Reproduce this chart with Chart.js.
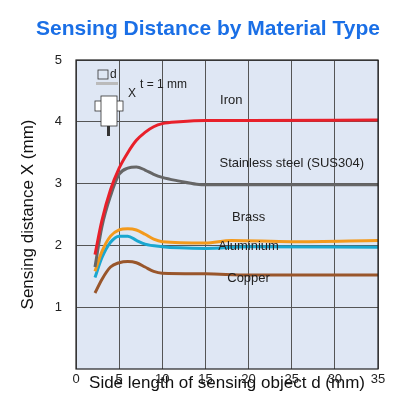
<!DOCTYPE html>
<html>
<head>
<meta charset="utf-8">
<script src="https://cdn.jsdelivr.net/npm/chart.js@4/dist/chart.umd.min.js"></script>
<style>
  html, body { margin: 0; padding: 0; background: #fff; }
  #wrap { width: 416px; height: 416px; }
</style>
</head>
<body>
<div id="wrap"><canvas id="myChart" width="416" height="416"></canvas></div>
<script>
// Valores
const seriesNames = ['Iron', 'Stainless steel (SUS304)', 'Brass', 'Aluminium', 'Copper'];
const ironPts = [[2.2,1.85],[3,2.4],[4,2.9],[5,3.25],[6,3.5],[7,3.7],[8,3.83],[9,3.92],[10,3.97],[12,4.0],[15,4.02],[20,4.02],[35,4.03]];
const stainlessPts = [[2.2,1.65],[3,2.3],[4,2.8],[5,3.15],[6,3.25],[7,3.27],[8,3.22],[9,3.15],[10,3.1],[12,3.04],[14,2.99],[15,2.98],[35,2.98]];
const brassPts = [[2.2,1.58],[3,1.9],[4,2.15],[5,2.25],[6,2.27],[7,2.25],[8,2.18],[9,2.1],[10,2.06],[15,2.04],[18,2.08],[25,2.06],[35,2.08]];
const aluminiumPts = [[2.2,1.48],[3,1.8],[4,2.05],[5,2.15],[6,2.15],[7,2.08],[8,2.02],[10,1.98],[12,1.96],[15,1.95],[20,1.98],[35,1.97]];
const copperPts = [[2.2,1.23],[3,1.45],[4,1.65],[5,1.72],[6,1.74],[7,1.72],[8,1.65],[9,1.58],[10,1.55],[15,1.54],[20,1.52],[35,1.52]];
const xTicks = [0, 5, 10, 15, 20, 25, 30, 35];
const yTicks = [1, 2, 3, 4, 5];

const colores = ['#e8202a', '#666666', '#f39a1c', '#1aa7d0', '#99562b'];
// etiquetas: [x, y] en unidades de datos
const etiquetaPos = [[18, 4.35], [25, 3.32], [20, 2.46], [20, 1.98], [20, 1.47]];
const etiquetaTxt = ['Iron', 'Stainless steel (SUS304)', 'Brass', 'Aluminium', 'Copper'];

const todos = [ironPts, stainlessPts, brassPts, aluminiumPts, copperPts];

// Plugin para fondo, titulo, etiquetas y el dibujito del sensor
const decoracion = {
    id: 'decoracion',
    beforeDraw(chart) {
        const { ctx, chartArea: a } = chart;
        ctx.save();
        ctx.fillStyle = '#dfe7f4';
        ctx.fillRect(a.left, a.top, a.right - a.left, a.bottom - a.top);
        ctx.restore();
    },
    afterDraw(chart) {
        const { ctx, chartArea: a, scales } = chart;
        ctx.save();
        ctx.strokeStyle = '#222';
        ctx.lineWidth = 1.2;
        ctx.strokeRect(a.left, a.top, a.right - a.left, a.bottom - a.top);

        ctx.fillStyle = '#1a6fe6';
        ctx.font = 'bold 21px Liberation Sans, Arial, sans-serif';
        ctx.textAlign = 'center';
        ctx.textBaseline = 'middle';
        ctx.fillText('Sensing Distance by Material Type', 208, 29);

        ctx.fillStyle = '#222';
        ctx.font = '13px Liberation Sans, Arial, sans-serif';
        etiquetaPos.forEach(([x, y], i) => {
            ctx.fillText(etiquetaTxt[i], scales.x.getPixelForValue(x), scales.y.getPixelForValue(y));
        });

        // dibujito del sensor (decorativo)
        ctx.strokeStyle = '#333';
        ctx.lineWidth = 0.8;
        ctx.fillStyle = '#fff';
        ctx.strokeRect(98, 70, 10, 9);
        ctx.fillStyle = '#bbb';
        ctx.fillRect(96, 82, 22, 3);
        ctx.fillStyle = '#222';
        ctx.font = '12px Liberation Sans, Arial, sans-serif';
        ctx.textAlign = 'left';
        ctx.fillText('d', 110, 75);
        ctx.fillText('t = 1 mm', 140, 85);
        ctx.fillText('X', 128, 94);
        ctx.fillStyle = '#fff';
        ctx.fillRect(95, 101, 28, 10);
        ctx.strokeRect(95, 101, 28, 10);
        ctx.fillRect(101, 96, 16, 30);
        ctx.strokeRect(101, 96, 16, 30);
        ctx.fillStyle = '#333';
        ctx.fillRect(107, 126, 3, 10);
        ctx.restore();
    }
};

new Chart(document.getElementById('myChart').getContext('2d'), {
    type: 'scatter',
    data: {
        datasets: todos.map((pts, i) => ({
            label: seriesNames[i],
            data: pts.map(([x, y]) => ({ x, y })),
            showLine: true,
            borderColor: colores[i],
            borderWidth: 3,
            pointRadius: 0,
            tension: 0.4,
            cubicInterpolationMode: 'monotone'
        }))
    },
    options: {
        responsive: false,
        animation: false,
        layout: { padding: { top: 60, right: 38, left: 18, bottom: 22 } },
        plugins: { legend: { display: false }, tooltip: { enabled: false } },
        scales: {
            x: {
                type: 'linear', min: 0, max: 35,
                afterBuildTicks: s => { s.ticks = xTicks.map(v => ({ value: v })); },
                afterFit: s => { s.height = 25; },
                grid: { color: '#555', lineWidth: 1, drawTicks: false },
                border: { display: false },
                ticks: { color: '#222', padding: 3, font: { size: 13, family: 'Liberation Sans' } },
                title: { display: true, text: 'Side length of sensing object d (mm)', color: '#111',
                         font: { size: 17, family: 'Liberation Sans' }, padding: 0 }
            },
            y: {
                min: 0, max: 5,
                afterBuildTicks: s => { s.ticks = yTicks.map(v => ({ value: v })); },
                afterFit: s => { s.width = 58; },
                grid: { color: '#555', lineWidth: 1, drawTicks: false },
                border: { display: false },
                ticks: { color: '#222', padding: 14, font: { size: 13, family: 'Liberation Sans' } },
                title: { display: true, text: 'Sensing distance X (mm)', color: '#111',
                         font: { size: 17, family: 'Liberation Sans' }, padding: 0 }
            }
        }
    },
    plugins: [decoracion]
});
</script>
</body>
</html>
